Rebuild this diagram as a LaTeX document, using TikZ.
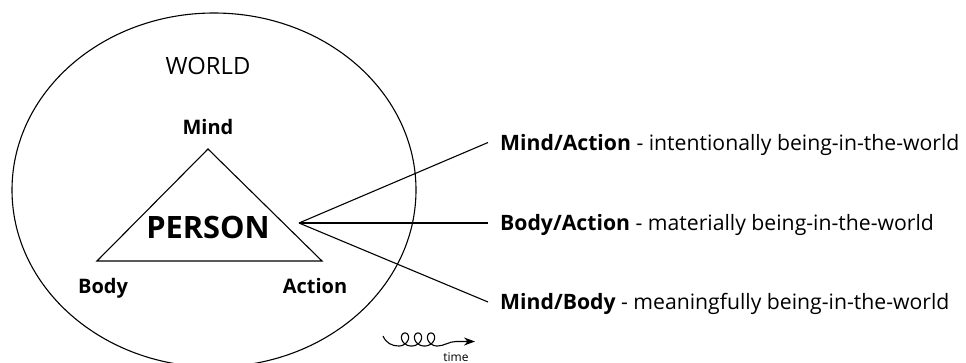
\documentclass[tikz,border=0pt]{standalone}
\usepackage{fontspec}
\setmainfont{Open Sans}
\usetikzlibrary{arrows.meta}
\begin{document}
\begin{tikzpicture}[x=1pt,y=-1pt,
  stroke/.style={line width=1.1pt, line join=miter},
  vertexlbl/.style={font=\fontsize{20}{24}\selectfont\bfseries, text height=14.3pt, text depth=0pt, inner sep=0pt},
  aspectlbl/.style={anchor=west, font=\fontsize{21.2}{25}\selectfont, text height=15.1pt, text depth=0pt, inner xsep=12pt, inner ysep=0pt},
]
\useasboundingbox (0,0) rectangle (966,362);
\clip (0,0) rectangle (966,362);

% the world
\coordinate (world) at (214,190);
\draw[stroke] (world) ellipse [x radius=202, y radius=177];
\node[font=\fontsize{23.8}{28}\selectfont, text height=17pt, text depth=0pt, inner sep=0pt] (worldlbl) at (208,65.5) {WORLD};

% the person triangle
\coordinate (mind)   at (208,149);
\coordinate (body)   at (97,261);
\coordinate (action) at (322,261);
\draw[stroke] (mind) -- (action) -- (body) -- cycle;
\node[font=\fontsize{30.8}{36}\selectfont\bfseries, text height=22pt, text depth=0pt, inner sep=0pt] (person) at (208,227) {PERSON};

\node[vertexlbl] (mindlbl)   at (208,127) {Mind};
\node[vertexlbl] (bodylbl)   at (103,286.5) {Body};
\node[vertexlbl] (actionlbl) at (315,286.5) {Action};

% the three ways of being-in-the-world
\coordinate (hub) at (299,223);
\node[aspectlbl] (ma) at (488,142.5) {\textbf{Mind/Action} - intentionally being-in-the-world};
\node[aspectlbl] (ba) at (488,223)   {\textbf{Body/Action} - materially being-in-the-world};
\node[aspectlbl] (mb) at (488,302)   {\textbf{Mind/Body} - meaningfully being-in-the-world};
\draw[stroke] (hub) -- (ma.west);
\draw[stroke] (hub) -- (ba.west);
\draw[stroke] (hub) -- (mb.west);

% time arrow
\coordinate (tstart) at (383,336);
\coordinate (ttip)   at (475,341.5);
\draw[line width=1.1pt, -{Stealth[length=11pt,width=8pt]}]
  (tstart) .. controls (386,343) and (392,346) .. (398.5,346)
  -- plot[domain=-3.14159:15.70796, samples=240, variable=\t, smooth]
       ({405 + 2.07*\t - 6.5*sin(\t r)}, {339.5 - 6.5*cos(\t r)})
  .. controls (444,346) and (449,341.5) .. (456,341.5) -- (ttip);
\node[font=\fontsize{12}{14}\selectfont, anchor=base, inner sep=0pt] (timelbl) at (456,361) {time};
\end{tikzpicture}
\end{document}
